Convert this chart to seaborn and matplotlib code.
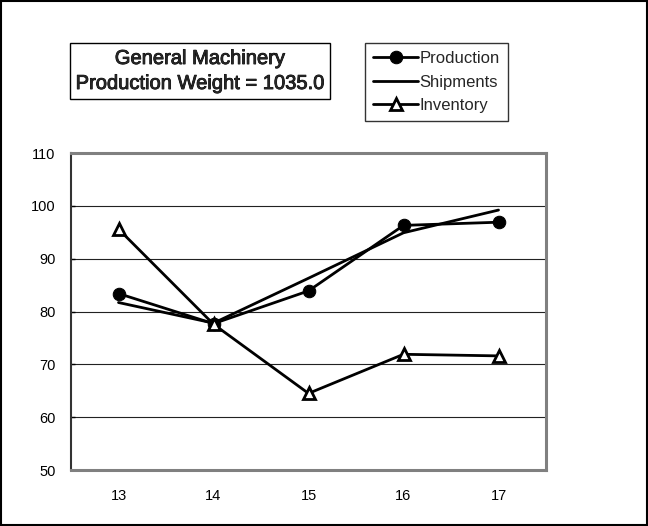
import numpy as np
import pandas as pd
import matplotlib
matplotlib.use('Agg')
import matplotlib.pyplot as plt
import matplotlib.patheffects as pe
import seaborn as sb

# Data
years = [13, 14, 15, 16, 17]
production = [83.4, 77.7, 83.9, 96.3, 96.9]
shipments = [81.7, 77.8, 86.3, 94.9, 99.2]
inventory = [95.6, 77.6, 64.5, 71.9, 71.6]
y_ticks = [50, 60, 70, 80, 90, 100, 110]

sb.set_style('white')
plt.rcParams['font.family'] = ['Liberation Sans', 'DejaVu Sans']

data = pd.DataFrame({'year': years, 'Production': production,
                     'Shipments': shipments, 'Inventory': inventory})

fig = plt.figure(figsize=(6.48, 5.26), dpi=100)
ax = fig.add_axes([71 / 648, 1 - 470 / 526, 475 / 648, 317 / 526])

sb.lineplot(data=data, x='year', y='Production', ax=ax, color='black', lw=2,
            marker='o', markersize=9, markeredgecolor='black', label='Production')
sb.lineplot(data=data, x='year', y='Shipments', ax=ax, color='black', lw=2,
            label='Shipments')
sb.lineplot(data=data, x='year', y='Inventory', ax=ax, color='black', lw=2,
            marker='^', markersize=9, markerfacecolor='white',
            markeredgecolor='black', markeredgewidth=2, label='Inventory')

ax.set_xlim(12.5, 17.5)
ax.set_ylim(50, 110)
ax.set_xticks(years)
ax.set_yticks(y_ticks)
ax.set_xlabel('')
ax.set_ylabel('')
ax.tick_params(axis='both', labelsize=10.5, colors='black')
ax.tick_params(axis='y', direction='in', length=3, width=1, color='black',
               left=True, pad=11)
ax.tick_params(axis='x', length=0, pad=14)
ax.yaxis.grid(True, color='#222222', lw=0.8)
ax.set_axisbelow(True)
for side in ['top', 'right', 'bottom']:
    ax.spines[side].set_color('#808080')
    ax.spines[side].set_linewidth(2.2)
ax.spines['left'].set_color('#333333')
ax.spines['left'].set_linewidth(1.5)

# Title box (regular face with a thin stroke to look like the narrow bold original)
title = fig.text(200 / 648, 1 - 71 / 526, 'General Machinery\nProduction Weight = 1035.0',
                 ha='center', va='center', fontsize=14.5, linespacing=1.4,
                 bbox=dict(boxstyle='square,pad=0.3', fc='white', ec='black', lw=1))
title.set_path_effects([pe.withStroke(linewidth=0.6, foreground='black')])

leg = ax.legend(loc='upper left', bbox_to_anchor=(365 / 648, 1 - 43 / 526),
                bbox_transform=fig.transFigure, frameon=True, fancybox=False,
                fontsize=12, handlelength=2.7, handletextpad=0.05,
                borderpad=0.5, labelspacing=0.5, borderaxespad=0)
leg.get_frame().set_edgecolor('black')
leg.get_frame().set_linewidth(1)

# outer frame
fig.patches.append(plt.Rectangle((0.002, 0.002), 0.996, 0.996, transform=fig.transFigure,
                                 fill=False, ec='black', lw=1.5))

plt.savefig('out.png', dpi=100)
